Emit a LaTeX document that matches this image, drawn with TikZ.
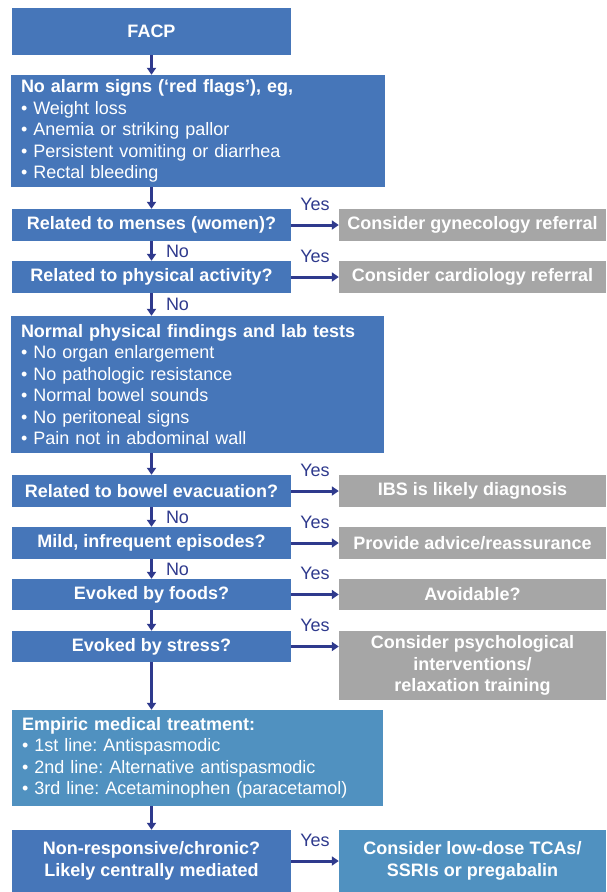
\documentclass[tikz,border=0pt]{standalone}
\usepackage{fontspec}
\setmainfont{Liberation Sans}
\usetikzlibrary{arrows.meta}
\frenchspacing
\definecolor{boxblue}{HTML}{4676B9}
\definecolor{lightblue}{HTML}{5091C0}
\definecolor{boxgray}{HTML}{A6A6A6}
\definecolor{navy}{HTML}{2F3A8D}
\tikzstyle{every node}=[font=\fontsize{18}{21.5}\selectfont]
\tikzstyle{question}=[fill=boxblue,text=white,inner sep=0pt,align=center,minimum width=279pt,minimum height=32pt,font=\fontsize{18}{21.5}\selectfont\bfseries]
\tikzstyle{referral}=[fill=boxgray,text=white,inner sep=0pt,align=center,minimum width=267pt,minimum height=32pt,font=\fontsize{18}{21.5}\selectfont\bfseries]
\tikzstyle{listbox}=[fill=boxblue,text=white,inner xsep=10pt,inner ysep=0pt,align=left]
\tikzstyle{arr}=[draw=navy,line width=3pt,-{Triangle[length=7pt,width=9pt]}]
\tikzstyle{yeslabel}=[text=navy,inner sep=2pt,above=11pt]
\tikzstyle{nolabel}=[text=navy,inner sep=2pt,right=11pt]

\begin{document}
\begin{tikzpicture}[x=1pt,y=-1pt]
	\useasboundingbox (0,0) rectangle (606,892);
	\coordinate (spine) at (151.5,0);
	%main column
	\node[question,minimum height=47pt] (facp) at (151.5,31.5) {FACP};
	\node[listbox,text width=354pt,minimum height=112pt] (flags) at (198,131)
	{\textbf{No alarm signs (‘red flags’), eg,}\\
		• Weight loss\\
		• Anemia or striking pallor\\
		• Persistent vomiting or diarrhea\\
		• Rectal bleeding};
	\node[question] (menses) at (151.5,225) {Related to menses (women)?};
	\node[question] (phys) at (151.5,277) {Related to physical activity?};
	\node[listbox,text width=353pt,minimum height=137pt] (normal) at (197.5,384.5)
	{\textbf{Normal physical findings and lab tests}\\
		• No organ enlargement\\
		• No pathologic resistance\\
		• Normal bowel sounds\\
		• No peritoneal signs\\
		• Pain not in abdominal wall};
	\node[question] (bowel) at (151.5,491) {Related to bowel evacuation?};
	\node[question] (mild) at (151.5,543) {Mild, infrequent episodes?};
	\node[question,minimum height=31pt] (foods) at (151.5,594.5) {Evoked by foods?};
	\node[question,minimum height=31pt] (stress) at (151.5,646.5) {Evoked by stress?};
	\node[listbox,fill=lightblue,text width=351pt,minimum height=96pt] (empiric) at (197.5,758)
	{\textbf{Empiric medical treatment:}\\
		• 1st line: Antispasmodic\\
		• 2nd line: Alternative antispasmodic\\
		• 3rd line: Acetaminophen (paracetamol)};
	\node[question,minimum height=62pt] (chronic) at (151.5,861)
	{Non-responsive/chronic?\\Likely centrally mediated};
	%right column
	\node[referral] (gyn) at (472.5,225) {Consider gynecology referral};
	\node[referral] (cardio) at (472.5,277) {Consider cardiology referral};
	\node[referral] (ibs) at (472.5,491) {IBS is likely diagnosis};
	\node[referral] (advice) at (472.5,543) {Provide advice/reassurance};
	\node[referral,minimum height=31pt] (avoid) at (472.5,594.5) {Avoidable?};
	\node[referral,minimum height=69pt] (psych) at (472.5,665.5)
	{Consider psychological\\interventions/\\relaxation training};
	\node[referral,fill=lightblue,minimum height=62pt] (tcas) at (472.5,861)
	{Consider low-dose TCAs/\\SSRIs or pregabalin};
	%arrows down
	\foreach \a/\b in {facp/flags,flags/menses,normal/bowel,foods/stress,stress/empiric,empiric/chronic}
	\draw[arr] (\a.south -| spine) -- (\b.north -| spine);
	\foreach \a/\b in {menses/phys,phys/normal,bowel/mild,mild/foods}
	\draw[arr] (\a.south -| spine) -- (\b.north -| spine)
	node[midway,nolabel] {No};
	%arrows right
	\foreach \a/\b in {menses/gyn,phys/cardio,bowel/ibs,mild/advice,foods/avoid,stress/psych,chronic/tcas}
	\draw[arr] (\a.east) -- (\a.east -| \b.west)
	node[midway,yeslabel] {Yes};
\end{tikzpicture}
\end{document}
